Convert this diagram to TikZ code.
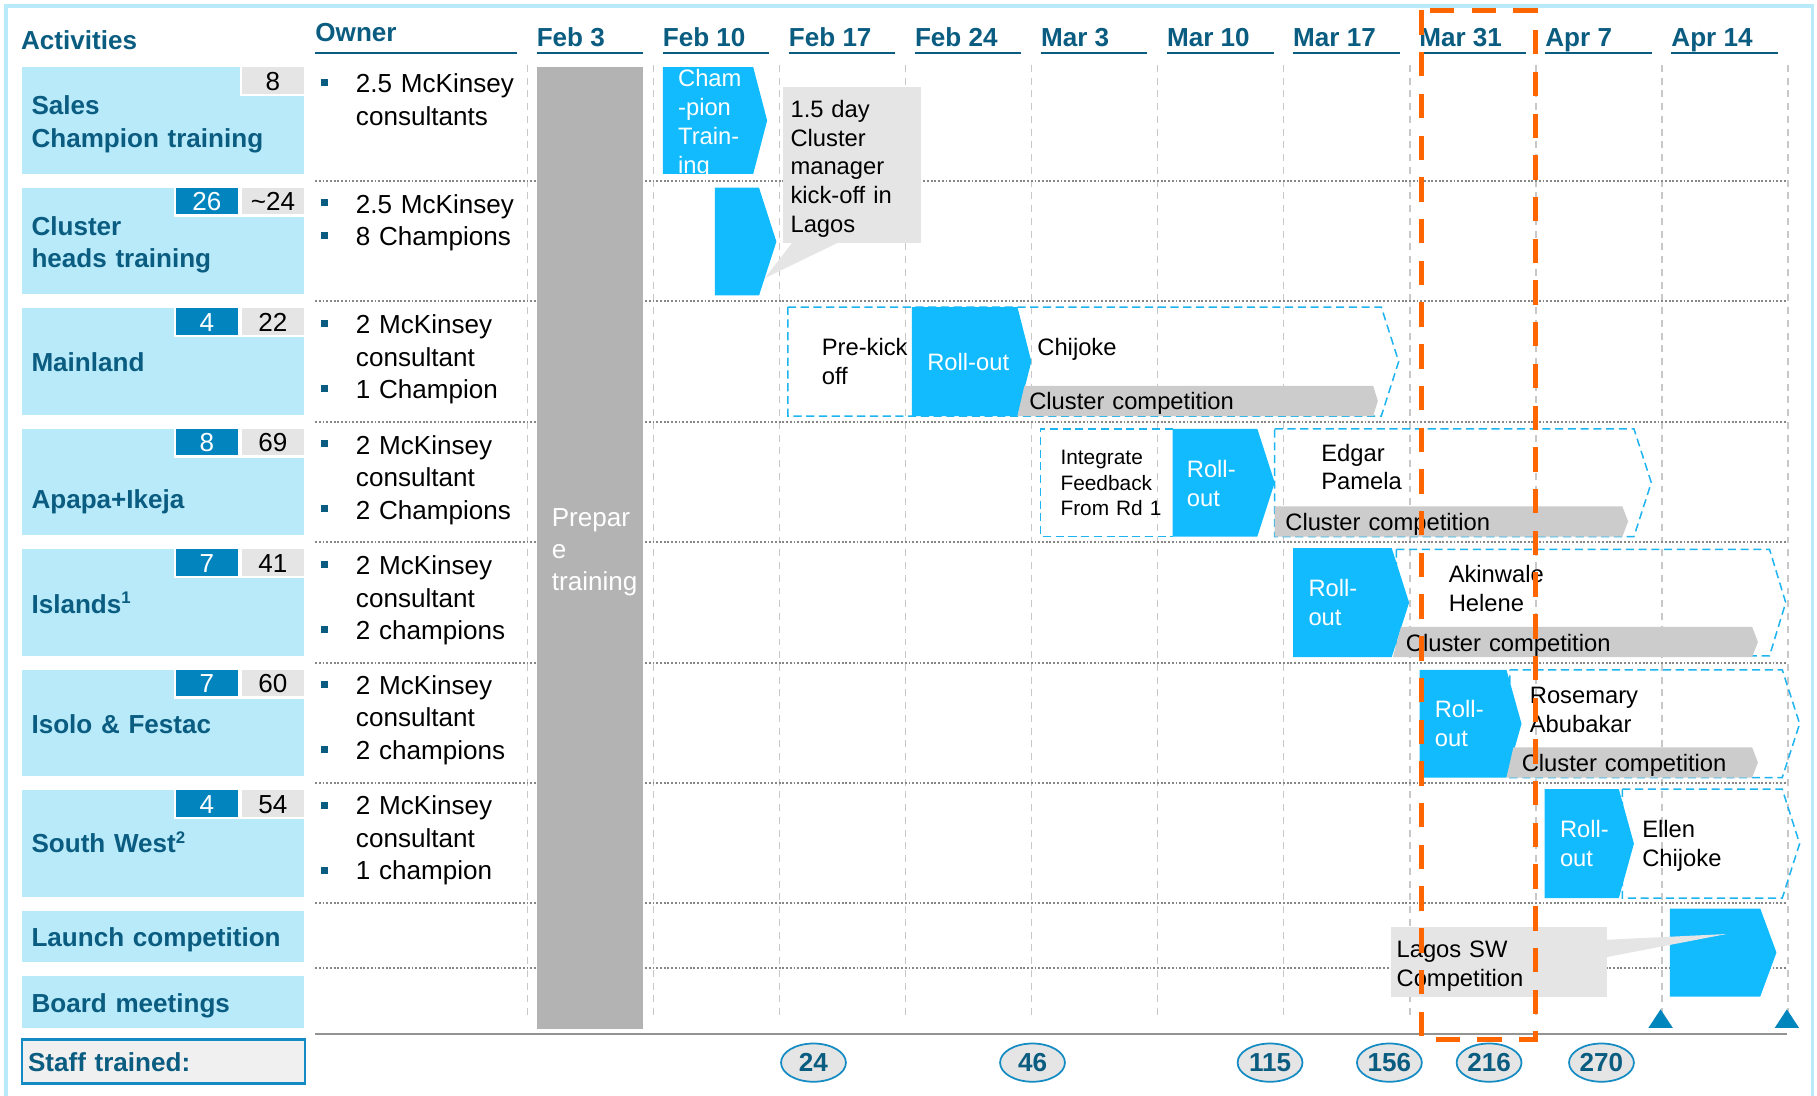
\documentclass[tikz,border=0pt]{standalone}
\usepackage{fontspec}
\setmainfont{Liberation Sans}
\usetikzlibrary{shapes.geometric}

\definecolor{frameblue}{RGB}{184,234,250}
\definecolor{actfill}{RGB}{184,234,250}
\definecolor{ink}{RGB}{10,92,128}
\definecolor{badgeblue}{RGB}{2,132,190}
\definecolor{badgegray}{RGB}{229,229,229}
\definecolor{chev}{RGB}{17,187,253}
\definecolor{dashblue}{RGB}{30,180,240}
\definecolor{bargray}{RGB}{179,179,179}
\definecolor{compgray}{RGB}{204,204,204}
\definecolor{callgray}{RGB}{229,229,229}
\definecolor{gridgray}{RGB}{200,200,200}
\definecolor{dotgray}{RGB}{135,135,135}
\definecolor{hilite}{RGB}{255,102,0}
\definecolor{ringblue}{RGB}{20,140,195}
\definecolor{staffgray}{RGB}{240,240,240}
\definecolor{markblue}{RGB}{0,133,189}

\newcommand\szL{\fontsize{22.5}{28}\selectfont}
\newcommand\szM{\fontsize{20.5}{24.8}\selectfont}
\newcommand\szS{\fontsize{18}{22}\selectfont}
\newcommand\supnum[1]{\raisebox{8pt}{\fontsize{14.5}{14.5}\selectfont #1}}
% chevron outline: [style]{left x}{shoulder x}{tip x}{top y}{bottom y}
\newcommand\chevron[6][]{\path[#1] (#2,#5) -- (#3,#5) -- (#4,{(#5+#6)/2}) -- (#3,#6) -- (#2,#6) -- cycle;}

\tikzset{
  lines/.style={inner sep=0pt, anchor=base west, text width=400pt, align=left},
  label/.style={lines, text=ink, font=\szL\bfseries},
  owner/.style={lines, text=black, font=\szL},
  body/.style={lines, text=black, font=\szM},
  white body/.style={lines, text=white, font=\szM},
  datehead/.style={inner sep=0pt, anchor=base west, text=ink, font=\szL\bfseries},
  headline/.style={draw=ink, line width=2pt},
  badge/.style={draw=white, line width=2pt},
  badgetext/.style={inner sep=0pt, anchor=base, font=\szL},
  bullet/.style={rectangle, fill=ink, minimum size=6pt, inner sep=0pt},
  gridline/.style={draw=gridgray, line width=1.2pt, dash pattern=on 6pt off 5pt},
  rowsep/.style={draw=dotgray, line width=1.6pt, dash pattern=on 1.6pt off 1.6pt},
  chevfill/.style={fill=chev},
  dashol/.style={draw=dashblue, line width=1.3pt, dash pattern=on 7pt off 4pt},
  compbar/.style={fill=compgray},
  count/.style={ellipse, draw=ringblue, line width=1.5pt, fill=badgegray, minimum width=56pt, minimum height=33pt, inner sep=0pt, text=ink, font=\szL\bfseries},
}

\begin{document}
\begin{tikzpicture}[x=1pt,y=-1pt]
\useasboundingbox (0,0) rectangle (1568,945);
\fill[white] (0,0) rectangle (1568,945);

% outer frame
\draw[frameblue, line width=3pt] (5,5) rectangle (1564,970);

% week grid
\foreach \k in {0,...,10}
  \draw[gridline] ({455+108.8*\k},56) -- ({455+108.8*\k},880);
\foreach \yy in {156,260,364,468,572,676,779,835}
  \draw[rowsep] (272,\yy) -- (1542,\yy);
\draw[draw=gray!85, line width=2pt] (272,892) -- (1542,892);

% activity column
\foreach \t/\b in {58/150,162/254,266/358,370/462,474/566,578/670,682/774,786/830,842/887}
  \fill[actfill] (19,\t) rectangle (262,\b);

\filldraw[badge, fill=badgegray] (208,57) rectangle (263,82);
\node[badgetext] (c1g) at (235.5,78) {8};
\foreach \t/\nb/\ng [count=\i] in {162/26/\textasciitilde 24,266/4/22,370/8/69,474/7/41,578/7/60,682/4/54}{
  \filldraw[badge, fill=badgeblue] (151,\t-1) rectangle (206,\t+24);
  \filldraw[badge, fill=badgegray] (208,\t-1) rectangle (263,\t+24);
  \node[badgetext, text=white] (cb\i) at (178.5,\t+20) {\nb};
  \node[badgetext] (cg\i) at (235.5,\t+20) {\ng};
}

\node[label] (act1) at (27,99) {Sales\\Champion training};
\node[label] (act2) at (27,203) {Cluster\\heads training};
\node[label] (act3) at (27,321) {Mainland};
\node[label] (act4) at (27,439) {Apapa+Ikeja};
\node[label] (act5) at (27,529) {Islands\supnum{1}};
\node[label] (act6) at (27,633) {Isolo \& Festac};
\node[label] (act7) at (27,736) {South West\supnum{2}};
\node[label] (act8) at (27,817) {Launch competition};
\node[label] (act9) at (27,874) {Board meetings};

\filldraw[fill=staffgray, draw=ringblue, line width=2pt] (19,897) rectangle (263,935);
\node[label] (staff) at (24,925) {Staff trained:};

% headers
\node[datehead] (hact) at (18,43) {Activities};
\node[datehead] (hown) at (272,36) {Owner};
\draw[headline] (272,46) -- (446,46);
\foreach \d [count=\k from 0] in {Feb 3,Feb 10,Feb 17,Feb 24,Mar 3,Mar 10,Mar 17,Mar 31,Apr 7,Apr 14}{
  \node[datehead] (wk\k) at ({463+108.8*\k},40) {\d};
  \draw[headline] ({463+108.8*\k},46) -- ({555+108.8*\k},46);
}

% owners
\node[owner] (own1) at (307,80) {2.5 McKinsey\\consultants};
\node[owner] (own2) at (307,184) {2.5 McKinsey\\8 Champions};
\node[owner] (own3) at (307,288) {2 McKinsey\\consultant\\1 Champion};
\node[owner] (own4) at (307,392) {2 McKinsey\\consultant\\2 Champions};
\node[owner] (own5) at (307,496) {2 McKinsey\\consultant\\2 champions};
\node[owner] (own6) at (307,599) {2 McKinsey\\consultant\\2 champions};
\node[owner] (own7) at (307,703) {2 McKinsey\\consultant\\1 champion};
\node[bullet] (bu1) at (280,71) {};
\node[bullet] (bu2a) at (280,175) {};
\node[bullet] (bu2b) at (280,203) {};
\foreach \t [count=\i from 3] in {266,370,474,578,682}{
  \node[bullet] (bu\i a) at (280,\t+13) {};
  \node[bullet] (bu\i b) at (280,\t+69) {};
}

% preparation block
\fill[bargray] (463,58) rectangle (555,888);
\node[lines, text=white, font=\szL] (prep) at (476,454) {Prepar\\e\\training};

% Sales champion training
\chevron[chevfill]{572}{650}{662}{58}{150}
\begin{scope}
  \clip (572,58) -- (650,58) -- (662,104) -- (650,150) -- (572,150) -- cycle;
  \node[white body] (sct) at (585,75) {Cham\\-pion\\Train-\\ing};
\end{scope}

% Cluster heads training
\chevron[chevfill]{617}{655}{670}{162}{255}

% Mainland
\chevron[dashol]{680}{1192}{1207}{265}{359}
\chevron[chevfill]{787}{878}{890}{265}{359}
\fill[compbar] (884,333) -- (1185,333) -- (1189,346) -- (1185,359) -- (878,359) -- cycle;
\node[body] (ml1) at (709,307) {Pre-kick\\off};
\node[white body] (ml2) at (800,320) {Roll-out};
\node[body] (ml3) at (895,307) {Chijoke};
\node[body] (ml4) at (888,353) {Cluster competition};

% Apapa + Ikeja
\draw[dashol] (1012,370) -- (898,370) -- (898,463) -- (1012,463);
\chevron[dashol]{1100}{1410}{1425}{370}{463}
\chevron[chevfill]{1012}{1085}{1100}{370}{463}
\fill[compbar] (1100,437) -- (1400,437) -- (1405,450) -- (1400,463) -- (1100,463) -- cycle;
\node[lines, text=black, font=\szS] (ap1) at (915,401) {Integrate\\Feedback\\From Rd 1};
\node[white body] (ap2) at (1024,412) {Roll-\\out};
\node[body] (ap3) at (1140,398) {Edgar\\Pamela};
\node[body] (ap4) at (1109,458) {Cluster competition};

% Islands
\chevron[dashol]{1205}{1527}{1541}{474}{566}
\chevron[chevfill]{1116}{1201}{1216}{473}{567}
\fill[compbar] (1209,541) -- (1512,541) -- (1517,554) -- (1512,567) -- (1202,567) -- cycle;
\node[white body] (is1) at (1129,515) {Roll-\\out};
\node[body] (is2) at (1250,503) {Akinwale\\Helene};
\node[body] (is3) at (1213,562) {Cluster competition};

% Isolo & Festac
\chevron[dashol]{1303}{1538}{1553}{578}{671}
\chevron[chevfill]{1225}{1300}{1313}{578}{671}
\fill[compbar] (1306,645) -- (1512,645) -- (1517,658) -- (1512,671) -- (1300,671) -- cycle;
\node[white body] (if1) at (1238,619) {Roll-\\out};
\node[body] (if2) at (1320,607) {Rosemary\\Abubakar};
\node[body] (if3) at (1313,666) {Cluster competition};

% South West
\chevron[dashol]{1400}{1538}{1553}{681}{775}
\chevron[chevfill]{1333}{1397}{1410}{681}{775}
\node[white body] (sw1) at (1346,723) {Roll-\\out};
\node[body] (sw2) at (1417,723) {Ellen\\Chijoke};

% Launch competition
\chevron[chevfill]{1441}{1519}{1533}{784}{860}

% call-outs
\fill[callgray] (676,75) rectangle (795,210);
\fill[callgray] (684,209) -- (660,240) -- (724,209) -- cycle;
\node[lines, text=black, font=\fontsize{20.5}{25}\selectfont] (kick) at (682,101) {1.5 day\\Cluster\\manager\\kick-off in\\Lagos};

\fill[callgray] (1200,800) rectangle (1387,860);
\fill[callgray] (1386,811) -- (1490,806) -- (1386,826) -- cycle;
\node[lines, text=black, font=\fontsize{20.5}{25}\selectfont] (lsw) at (1205,826) {Lagos SW\\Competition};

% board meeting markers
\fill[markblue] (1433,871) -- (1443.5,887) -- (1422.5,887) -- cycle;
\fill[markblue] (1542,871) -- (1552.5,887) -- (1531.5,887) -- cycle;

% staff trained counts
\node[count] (n24) at (702,917) {24};
\node[count] (n46) at (891,917) {46};
\node[count] (n115) at (1096,917) {115};
\node[count] (n156) at (1199,917) {156};
\node[count] (n216) at (1285,917) {216};
\node[count] (n270) at (1382,917) {270};

% current window
\draw[hilite, line width=4.5pt, dash pattern=on 21pt off 15pt] (1227,9) rectangle (1325,897);
\end{tikzpicture}
\end{document}
